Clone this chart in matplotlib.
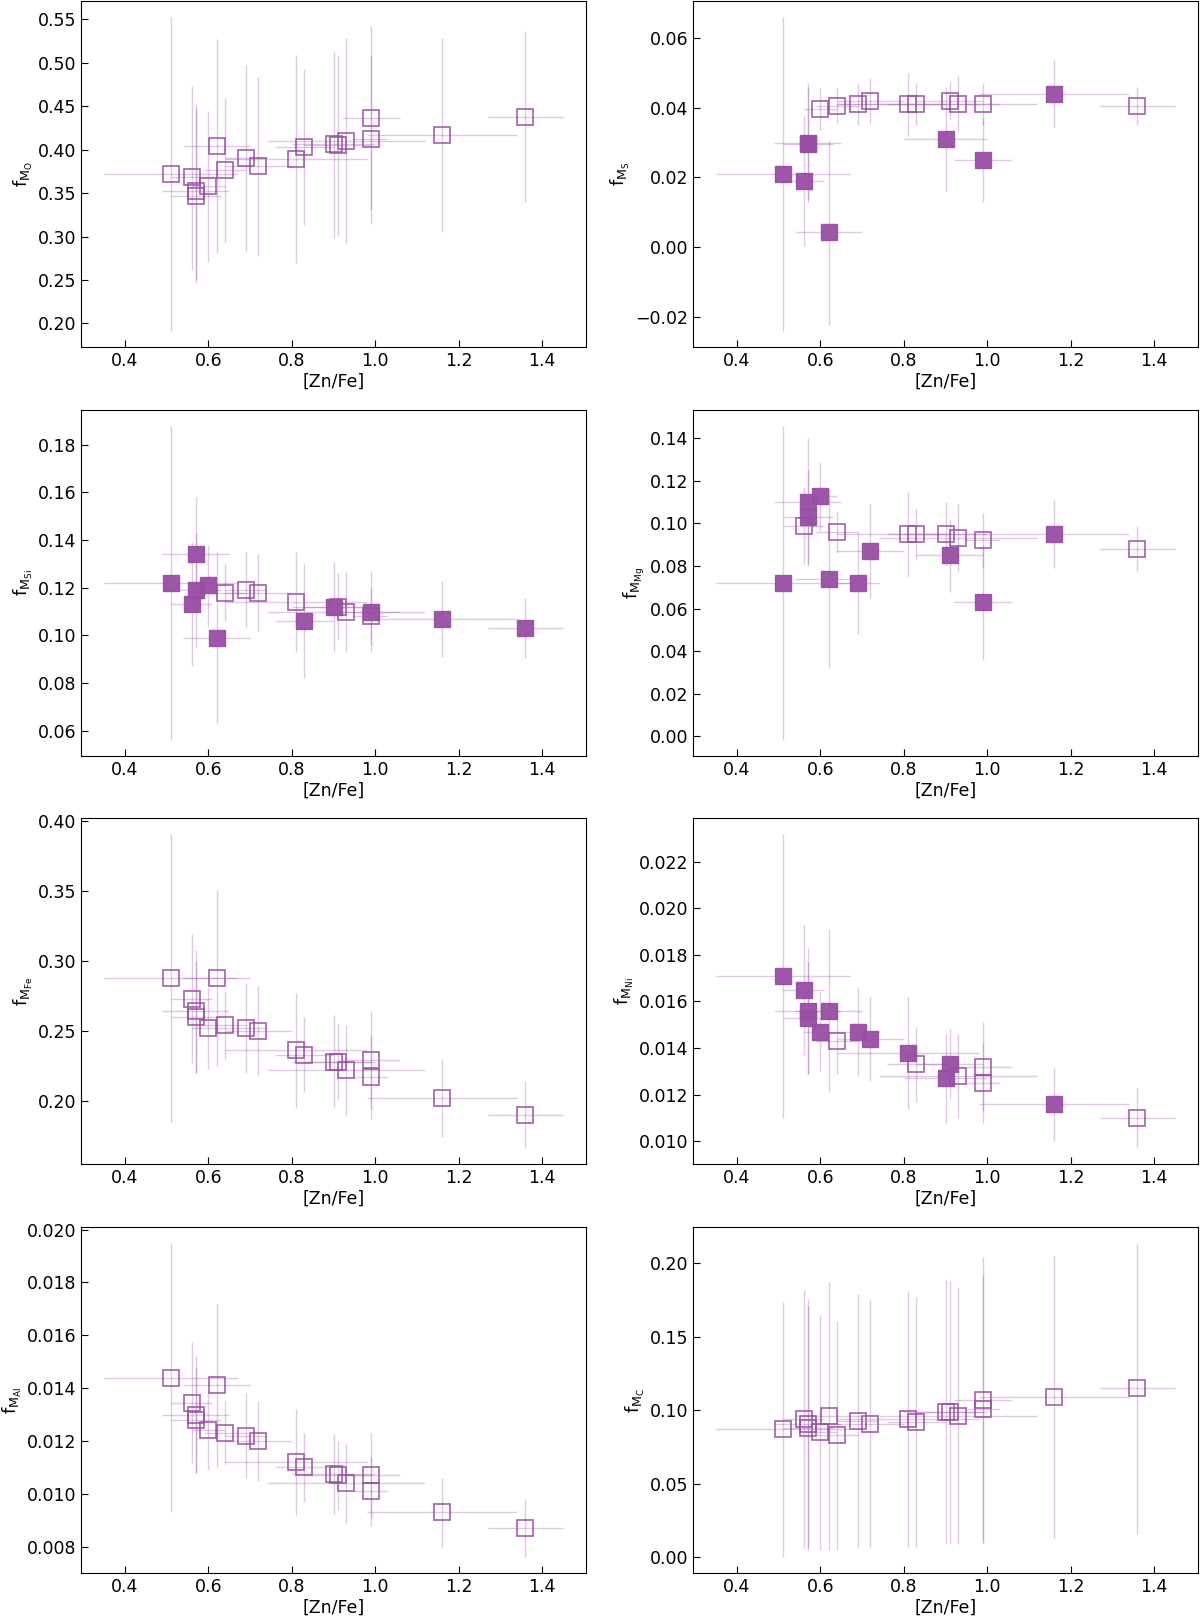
import matplotlib
matplotlib.use("Agg")
import matplotlib.pyplot as plt
import numpy as np

# [Zn/Fe] for the 18 systems and its uncertainty
zn_fe = [0.51, 0.56, 0.57, 0.57, 0.60, 0.62, 0.64, 0.69, 0.72, 0.81, 0.83, 0.90, 0.91, 0.93, 0.99, 0.99, 1.16, 1.36]
zn_fe_err = [0.16, 0.05, 0.08, 0.06, 0.04, 0.08, 0.05, 0.05, 0.08, 0.17, 0.07, 0.10, 0.08, 0.19, 0.07, 0.04, 0.18, 0.09]

f_O = [0.372, 0.368, 0.352, 0.347, 0.358, 0.404, 0.377, 0.390, 0.381, 0.389, 0.403, 0.406, 0.405, 0.410, 0.436, 0.412, 0.417, 0.438]
f_O_err = [0.181, 0.105, 0.101, 0.100, 0.087, 0.123, 0.083, 0.107, 0.103, 0.120, 0.090, 0.108, 0.104, 0.118, 0.106, 0.097, 0.112, 0.098]
f_O_filled = [0] * 18

f_S = [0.021, 0.019, 0.030, 0.0295, 0.0395, 0.0043, 0.0405, 0.041, 0.042, 0.041, 0.041, 0.031, 0.042, 0.041, 0.025, 0.041, 0.044, 0.0405]
f_S_err = [0.045, 0.0185, 0.017, 0.016, 0.006, 0.0265, 0.005, 0.006, 0.0065, 0.009, 0.006, 0.015, 0.0055, 0.008, 0.012, 0.006, 0.0095, 0.0055]
f_S_filled = [1, 1, 1, 1, 0, 1, 0, 0, 0, 0, 0, 1, 0, 0, 1, 0, 1, 0]

f_Si = [0.122, 0.113, 0.134, 0.119, 0.121, 0.099, 0.118, 0.119, 0.118, 0.114, 0.106, 0.112, 0.112, 0.110, 0.110, 0.108, 0.107, 0.103]
f_Si_err = [0.066, 0.026, 0.024, 0.024, 0.017, 0.036, 0.012, 0.016, 0.016, 0.021, 0.024, 0.019, 0.014, 0.017, 0.017, 0.012, 0.016, 0.0125]
f_Si_filled = [1, 1, 1, 1, 1, 1, 0, 0, 0, 0, 1, 1, 0, 0, 1, 0, 1, 1]

f_Mg = [0.072, 0.099, 0.110, 0.103, 0.113, 0.074, 0.096, 0.072, 0.087, 0.095, 0.095, 0.095, 0.085, 0.093, 0.063, 0.092, 0.095, 0.088]
f_Mg_err = [0.074, 0.018, 0.030, 0.022, 0.016, 0.042, 0.010, 0.024, 0.022, 0.020, 0.012, 0.015, 0.017, 0.016, 0.027, 0.013, 0.016, 0.011]
f_Mg_filled = [1, 0, 1, 1, 1, 1, 0, 1, 1, 0, 0, 0, 1, 0, 1, 0, 1, 0]

f_Fe = [0.288, 0.273, 0.264, 0.260, 0.252, 0.288, 0.254, 0.252, 0.250, 0.236, 0.233, 0.228, 0.228, 0.222, 0.229, 0.217, 0.202, 0.190]
f_Fe_err = [0.103, 0.046, 0.044, 0.040, 0.029, 0.063, 0.024, 0.032, 0.032, 0.041, 0.027, 0.033, 0.027, 0.032, 0.035, 0.030, 0.028, 0.024]
f_Fe_filled = [0] * 18

f_Ni = [0.0171, 0.0165, 0.0156, 0.0153, 0.0147, 0.0156, 0.0143, 0.0147, 0.0144, 0.0138, 0.0133, 0.0127, 0.0133, 0.0128, 0.0132, 0.0125, 0.0116, 0.0110]
f_Ni_err = [0.0061, 0.0028, 0.0027, 0.0024, 0.0017, 0.0035, 0.0014, 0.0019, 0.0018, 0.0024, 0.0016, 0.0019, 0.0015, 0.0018, 0.0019, 0.0017, 0.0016, 0.0013]
f_Ni_filled = [1, 1, 1, 1, 1, 1, 0, 1, 1, 1, 0, 1, 1, 0, 0, 0, 1, 0]

f_Al = [0.0144, 0.01345, 0.0130, 0.0128, 0.0124, 0.0141, 0.0123, 0.0122, 0.0120, 0.0112, 0.0110, 0.01075, 0.0107, 0.0104, 0.0107, 0.0101, 0.0093, 0.0087]
f_Al_err = [0.0051, 0.0023, 0.0022, 0.0020, 0.0015, 0.0031, 0.0012, 0.0016, 0.0015, 0.0020, 0.0013, 0.0015, 0.0013, 0.0015, 0.0016, 0.0013, 0.0013, 0.0011]
f_Al_filled = [0] * 18

f_C = [0.087, 0.094, 0.091, 0.088, 0.085, 0.096, 0.083, 0.093, 0.091, 0.094, 0.092, 0.099, 0.099, 0.096, 0.107, 0.101, 0.109, 0.115]
f_C_err = [0.087, 0.088, 0.085, 0.083, 0.080, 0.091, 0.078, 0.086, 0.084, 0.087, 0.085, 0.090, 0.089, 0.087, 0.097, 0.091, 0.096, 0.099]
f_C_filled = [0] * 18

panels = [
    ("O", f_O, f_O_err, f_O_filled),
    ("S", f_S, f_S_err, f_S_filled),
    ("Si", f_Si, f_Si_err, f_Si_filled),
    ("Mg", f_Mg, f_Mg_err, f_Mg_filled),
    ("Fe", f_Fe, f_Fe_err, f_Fe_filled),
    ("Ni", f_Ni, f_Ni_err, f_Ni_filled),
    ("Al", f_Al, f_Al_err, f_Al_filled),
    ("C", f_C, f_C_err, f_C_filled),
]

color = "#984ea3"

W, H = 1200, 1616
fig = plt.figure(figsize=(W / 100, H / 100), dpi=100)
lefts = [81, 693]
width = 505
tops = [1, 410, 818, 1227]
height = 346

x = np.array(zn_fe)
xe = np.array(zn_fe_err)
for i, (el, vals, errs, filled) in enumerate(panels):
    r, c = divmod(i, 2)
    ax = fig.add_axes([lefts[c] / W, 1 - (tops[r] + height) / H, width / W, height / H])
    y = np.array(vals)
    ye = np.array(errs)
    fm = np.array(filled, dtype=bool)
    ax.errorbar(x, y, xerr=xe, yerr=ye, fmt="none", ecolor=color, alpha=0.3,
                elinewidth=1.0, zorder=1)
    ax.plot(x[~fm], y[~fm], "s", ms=11, mfc="none", mec=color, mew=1.2,
            alpha=0.9, ls="none", zorder=3)
    ax.plot(x[fm], y[fm], "s", ms=11, mfc=color, mec=color, mew=1.0,
            alpha=0.95, ls="none", zorder=4)
    ax.set_xlabel("[Zn/Fe]", fontsize=12.5, labelpad=2)
    ax.set_ylabel(r"$\mathrm{f_{M_{%s}}}$" % el, fontsize=13, labelpad=2)
    ax.tick_params(direction="in", labelsize=12.5, length=5)
    ax.set_xticks([0.4, 0.6, 0.8, 1.0, 1.2, 1.4])

fig.savefig("out.png", dpi=100)
